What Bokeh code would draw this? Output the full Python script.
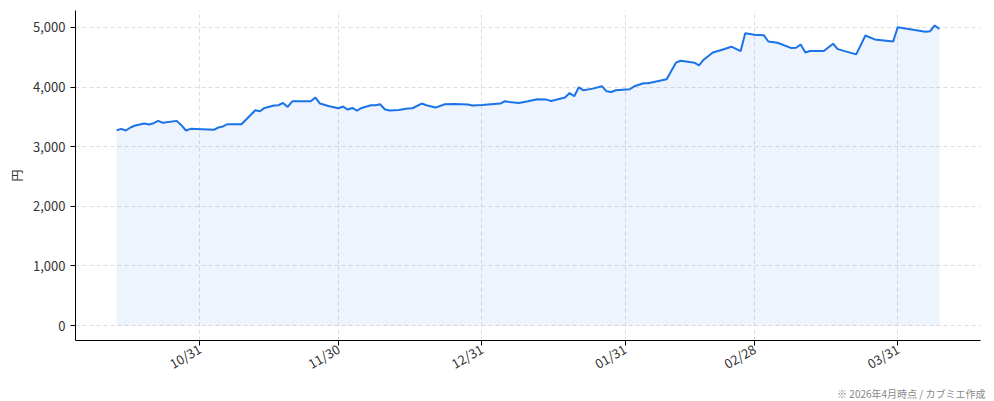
import math
import pandas as pd
from bokeh.plotting import figure
from bokeh.models import Range1d, FixedTicker, DatetimeTickFormatter, NumeralTickFormatter, Title
from bokeh.embed import file_html
from bokeh.resources import INLINE

# ---- data ----
dates = [
    "2025-10-13", "2025-10-14", "2025-10-15", "2025-10-16", "2025-10-17", "2025-10-19",
    "2025-10-20", "2025-10-21", "2025-10-22", "2025-10-23", "2025-10-26", "2025-10-27",
    "2025-10-28", "2025-10-29", "2025-11-03", "2025-11-04", "2025-11-05", "2025-11-06",
    "2025-11-09", "2025-11-12", "2025-11-13", "2025-11-14", "2025-11-16", "2025-11-17",
    "2025-11-18", "2025-11-19", "2025-11-20", "2025-11-24", "2025-11-25", "2025-11-26",
    "2025-11-28", "2025-11-30", "2025-12-01", "2025-12-02", "2025-12-03", "2025-12-04",
    "2025-12-05", "2025-12-07", "2025-12-08", "2025-12-09", "2025-12-10", "2025-12-11",
    "2025-12-13", "2025-12-15", "2025-12-16", "2025-12-18", "2025-12-19", "2025-12-21",
    "2025-12-23", "2025-12-25", "2025-12-28", "2025-12-29", "2025-12-31", "2026-01-04",
    "2026-01-05", "2026-01-06", "2026-01-08", "2026-01-10", "2026-01-12", "2026-01-14",
    "2026-01-15", "2026-01-18", "2026-01-19", "2026-01-20", "2026-01-21", "2026-01-22",
    "2026-01-24", "2026-01-26", "2026-01-27", "2026-01-28", "2026-01-29", "2026-02-01",
    "2026-02-02", "2026-02-04", "2026-02-05", "2026-02-09", "2026-02-11", "2026-02-12",
    "2026-02-14", "2026-02-15", "2026-02-16", "2026-02-17", "2026-02-19", "2026-02-21",
    "2026-02-23", "2026-02-25", "2026-02-26", "2026-02-28", "2026-03-02", "2026-03-03",
    "2026-03-05", "2026-03-08", "2026-03-09", "2026-03-10", "2026-03-11", "2026-03-12",
    "2026-03-15", "2026-03-17", "2026-03-18", "2026-03-22", "2026-03-24", "2026-03-26",
    "2026-03-30", "2026-03-31", "2026-04-02", "2026-04-06", "2026-04-07", "2026-04-08",
    "2026-04-09",
]
prices = [
    3277, 3299, 3271, 3322, 3355, 3389,
    3372, 3394, 3433, 3400, 3433, 3361,
    3271, 3299, 3283, 3322, 3339, 3377,
    3377, 3611, 3595, 3650, 3690, 3695,
    3734, 3667, 3762, 3762, 3824, 3724,
    3678, 3645, 3673, 3623, 3650, 3606,
    3650, 3695, 3695, 3712, 3628, 3606,
    3617, 3640, 3645, 3724, 3695, 3656,
    3712, 3718, 3706, 3690, 3701, 3724,
    3762, 3751, 3734, 3762, 3796, 3790,
    3767, 3824, 3901, 3846, 3996, 3946,
    3974, 4013, 3929, 3918, 3946, 3963,
    4013, 4063, 4063, 4130, 4409, 4442,
    4419, 4409, 4364, 4459, 4581, 4626,
    4677, 4604, 4904, 4877, 4871, 4765,
    4743, 4654, 4660, 4715, 4581, 4604,
    4604, 4727, 4637, 4548, 4865, 4799,
    4765, 5005, 4977, 4927, 4938, 5033,
    4977,
]
tick_dates = ["2025-10-31", "2025-11-30", "2025-12-31", "2026-01-31", "2026-02-28", "2026-03-31"]
y_ticks = [0, 1000, 2000, 3000, 4000, 5000]
y_label = "円"
note = "※ 2026年4月時点 / カブミエ作成"

FONT = "Noto Sans CJK JP"
LINE_COLOR = "#1a73e8"

x = pd.to_datetime(dates)
x0, x1 = x.min(), x.max()
xpad = (x1 - x0) * 0.05
ylo, yhi = 0, max(prices)
ypad = (yhi - ylo) * 0.05

p = figure(
    width=990, height=400,
    x_axis_type="datetime",
    x_range=Range1d(x0 - xpad, x1 + xpad),
    y_range=Range1d(ylo - ypad, yhi + ypad),
    output_backend="svg", toolbar_location=None,
    min_border_left=75, min_border_right=10, min_border_top=10, min_border_bottom=40,
)
p.outline_line_color = None
p.background_fill_color = "white"
p.border_fill_color = "white"

p.varea(x=x, y1=[0] * len(prices), y2=prices, fill_color=LINE_COLOR, fill_alpha=0.08)
p.line(x=x, y=prices, line_color=LINE_COLOR, line_width=2)

tick_ms = [pd.Timestamp(d).value / 1e6 for d in tick_dates]
p.xaxis.ticker = FixedTicker(ticks=tick_ms)
p.xaxis.formatter = DatetimeTickFormatter(days="%m/%d", months="%m/%d", years="%m/%d",
                                          hours="%m/%d", minutes="%m/%d", seconds="%m/%d",
                                          milliseconds="%m/%d", microseconds="%m/%d")
p.xaxis.major_label_orientation = math.pi / 6
p.yaxis.ticker = FixedTicker(ticks=y_ticks)
p.yaxis.formatter = NumeralTickFormatter(format="0,0")
p.yaxis.axis_label = y_label

for ax in (p.xaxis[0], p.yaxis[0]):
    ax.axis_line_color = "black"
    ax.axis_line_width = 1
    ax.major_tick_line_color = "black"
    ax.major_tick_out = 5
    ax.major_tick_in = 0
    ax.minor_tick_line_color = None
    ax.major_label_text_font = FONT
    ax.major_label_text_font_size = "13px"
    ax.major_label_text_color = "#333333"
    ax.axis_label_text_font = FONT
    ax.axis_label_text_font_size = "12px"
    ax.axis_label_text_font_style = "normal"
    ax.axis_label_text_color = "#333333"
p.xaxis.major_label_standoff = 2

for g in (p.xgrid[0], p.ygrid[0]):
    g.grid_line_color = "#dddddd"
    g.grid_line_dash = "4 3"
    g.grid_line_width = 1

t = Title(text=note, align="right", text_font=FONT, text_font_size="10px",
          text_color="#888888", text_font_style="normal", standoff=0, offset=-5)
p.add_layout(t, "below")

open("out.html", "w").write(file_html(p, INLINE))
